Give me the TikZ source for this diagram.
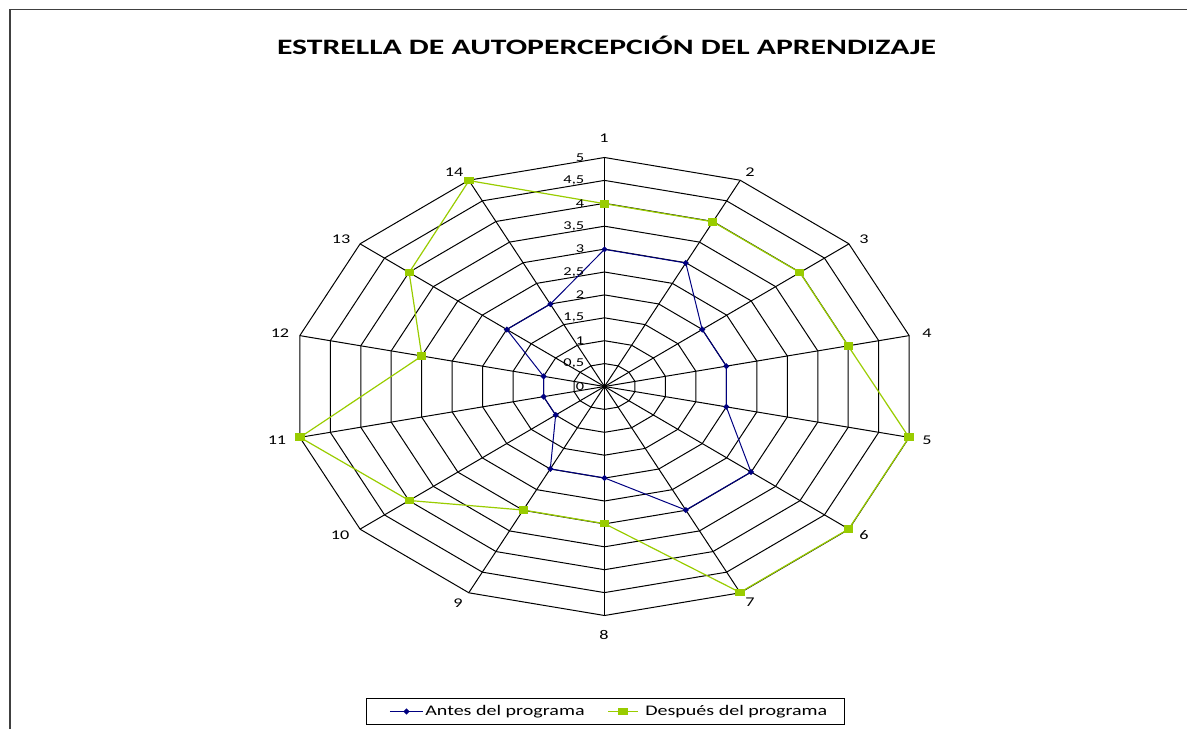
\documentclass[tikz,border=0pt]{standalone}
\usepackage{fontspec}
\setmainfont{Carlito}
\usetikzlibrary{shapes.geometric}
\definecolor{antesblue}{HTML}{000080}
\definecolor{despuesgreen}{HTML}{99CC00}

\begin{document}
\begin{tikzpicture}[x=0.75pt,y=0.75pt]
\tikzstyle{every node}+=[inner sep=0pt]
\tikzstyle{grid}=[black, line width=0.75pt]
\tikzstyle{antesline}=[antesblue, line width=0.75pt]
\tikzstyle{despuesline}=[despuesgreen, line width=0.9pt]
\tikzstyle{antesmark}=[diamond, fill=antesblue, minimum width=4.8pt, minimum height=4.8pt]
\tikzstyle{despuesmark}=[rectangle, fill=despuesgreen, minimum width=6.8pt, minimum height=5.8pt]
\tikzstyle{axlbl}=[font=\fontsize{10}{12}\selectfont, xscale=1.365]
\tikzstyle{ticklbl}=[font=\fontsize{9}{11}\selectfont, xscale=1.365, anchor=east]
\tikzstyle{legtext}=[font=\fontsize{11}{13}\selectfont, xscale=1.365, anchor=west]
\useasboundingbox (-604.5,-342.5) rectangle (582.5,386.5);
% frame
\draw [gray!50!black, line width=1pt] (-594.5,-342.5) -- (-594.5,377.2) -- (582.5,377.2);
% title
\node [font=\bfseries\fontsize{16.5}{19}\selectfont, xscale=1.44] (title) at (2,341.5) {ESTRELLA DE AUTOPERCEPCIÓN DEL APRENDIZAJE};
% chart
\begin{scope}[xscale=62.5, yscale=45.8]
\coordinate (c) at (0,0);
\foreach \r in {0.5,1,...,5}
  \draw [grid] (90:\r) \foreach \k in {1,...,13}{ -- ({90-\k*360/14}:\r)} -- cycle;
\foreach \k in {1,...,14} {
  \coordinate (e\k) at ({90-(\k-1)*360/14}:5);
  \draw [grid] (c) -- (e\k);
}
% antes del programa
\foreach \v [count=\k] in {3,3,2,2,2,3,3,2,2,1,1,1,2,2}
  \coordinate (a\k) at ({90-(\k-1)*360/14}:\v);
\draw [antesline] (a1) \foreach \k in {2,...,14}{ -- (a\k)} -- cycle;
\foreach \k in {1,...,14}
  \node [antesmark] (ma\k) at (a\k) {};
% despues del programa
\foreach \v [count=\k] in {4,4,4,4,5,5,5,3,3,4,5,3,4,5}
  \coordinate (d\k) at ({90-(\k-1)*360/14}:\v);
\draw [despuesline] (d1) \foreach \k in {2,...,14}{ -- (d\k)} -- cycle;
\foreach \k in {1,...,14}
  \node [despuesmark] (md\k) at (d\k) {};
\end{scope}
% scale values
\foreach \r/\t in {0/0,0.5/{0,5},1/1,1.5/{1,5},2/2,2.5/{2,5},3/3,3.5/{3,5},4/4,4.5/{4,5},5/5}
  \node [ticklbl] (t\r) at (-20,\r*45.8) {\t};
% axis labels
\foreach \n/\x/\y in {1/-0.5/248.5, 2/145.5/214.5, 3/259.5/147.5, 4/322.5/53.5,
  5/322.5/-53.5, 6/259.5/-148.5, 7/145.5/-215.5, 8/-0.5/-248.5, 9/-146.5/-216.5,
  10/-264.5/-148.5, 11/-327.5/-53.5, 12/-324.5/53.5, 13/-263.5/147.5, 14/-150.5/214.5}
  \node [axlbl] (l\n) at (\x,\y) {\n};
% legend
\node [draw, line width=0.75pt, minimum width=358.7pt, minimum height=19pt] (legend) at (1.35,-325.15) {};
\coordinate (la1) at (-214.5,-325);
\coordinate (la2) at (-181.8,-325);
\draw [antesline] (la1) -- (la2);
\node [antesmark] (lam) at (-198,-325) {};
\node [legtext] (lat) at (-179.5,-325) {Antes del programa};
\coordinate (ld1) at (3.5,-325);
\coordinate (ld2) at (33.5,-325);
\draw [despuesline] (ld1) -- (ld2);
\node [despuesmark] (ldm) at (18.5,-325) {};
\node [legtext] (ldt) at (40.5,-325) {Después del programa};
\end{tikzpicture}
\end{document}
